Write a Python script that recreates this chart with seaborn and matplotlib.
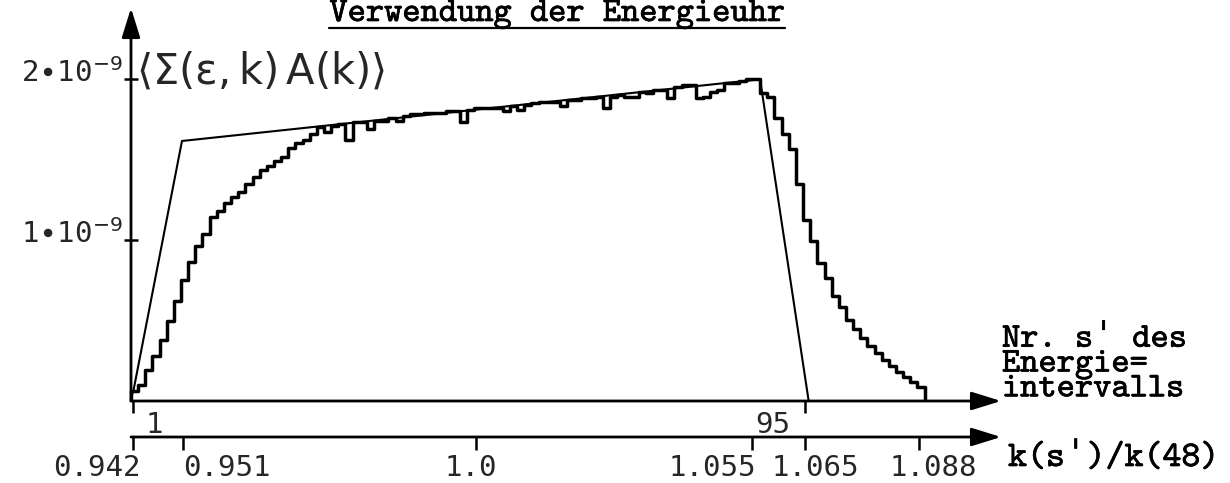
import matplotlib
matplotlib.use("Agg")
import matplotlib.pyplot as plt
import matplotlib.patheffects as pe
import numpy as np
import pandas as pd
import seaborn as sns

sns.set_theme(style="white")
plt.rcParams["font.family"] = ["DejaVu Sans Mono", "DejaVu Sans"]
plt.rcParams["mathtext.fontset"] = "dejavusans"

# --- data (values in units of 1e-9) ---
# histogram over energy interval number s' = 1..111
RISE = [0.06, 0.10, 0.19, 0.28, 0.38, 0.50, 0.62, 0.75, 0.865, 0.96, 1.04, 1.14,
        1.18, 1.23, 1.27, 1.30, 1.35, 1.39, 1.435, 1.46, 1.49, 1.515, 1.57, 1.60,
        1.62, 1.66, 1.70]
TOP = [1.67, 1.71, 1.72, 1.62, 1.73, 1.73, 1.69, 1.74, 1.74, 1.76, 1.74, 1.77,
       1.78, 1.78, 1.79, 1.79, 1.79, 1.80, 1.80, 1.735, 1.81, 1.82, 1.82, 1.82,
       1.82, 1.80, 1.83, 1.81, 1.84, 1.85, 1.86, 1.86, 1.86, 1.83, 1.87, 1.87,
       1.88, 1.88, 1.89, 1.82, 1.89, 1.90, 1.89, 1.89, 1.92, 1.91, 1.93, 1.93,
       1.88, 1.95, 1.96, 1.96, 1.88, 1.89, 1.92, 1.93, 1.975, 1.975, 1.99, 2.00,
       2.00]
FALL = [1.91, 1.886, 1.756, 1.66, 1.563, 1.35, 1.124, 0.996, 0.86, 0.766, 0.652,
        0.586, 0.503, 0.45, 0.39, 0.342, 0.296, 0.255, 0.217, 0.182, 0.151, 0.12,
        0.089]
HIST_VALUES = np.array(RISE + TOP + FALL)

# trapezoid (model curve)
TRAP_S = [1, 7.85, 88.7, 95.5]
TRAP_V = [0.05, 1.615, 1.998, 0.0]

# axis ticks
S_TICKS = [1, 95]
S_TICK_LABELS = ["1", "95"]
K_TICKS = [1, 8, 49, 87.6, 95, 111]
K_TICK_LABELS = ["0.942", "0.951", "1.0", "1.055", "1.065", "1.088"]
Y_TICKS = [1, 2]
Y_TICK_LABELS = [r"1$\bullet$10$^{-9}$", r"2$\bullet$10$^{-9}$"]

# --- layout ---
PX_PER_S = 7.15
S_AT_PX0 = 1 - 133 / PX_PER_S
PX_PER_UNIT = 161.0
Y_TOP = 401 / PX_PER_UNIT
W, H = 1230, 483

fig = plt.figure(figsize=(W / 100, H / 100), dpi=100)
ax = fig.add_axes([0, 0, 1, 1])

n = len(HIST_VALUES)
s_lo = 1 - 0.28
hist_df = pd.DataFrame({"s": np.arange(1, n + 1) - 0.28 + 0.5, "v": HIST_VALUES})
sns.histplot(data=hist_df, x="s", weights="v", binwidth=1, binrange=(s_lo, s_lo + n),
             element="step", fill=False, color="black", linewidth=2.5, ax=ax)
ax.vlines([s_lo, s_lo + n], 0, [HIST_VALUES[0], HIST_VALUES[-1]],
          color="black", linewidth=2.5)
sns.lineplot(x=TRAP_S, y=TRAP_V, sort=False, color="black", linewidth=1.5, ax=ax)

ax.set_xlim(S_AT_PX0, S_AT_PX0 + W / PX_PER_S)
ax.set_ylim(Y_TOP - H / PX_PER_UNIT, Y_TOP)
ax.set_axis_off()


def px_s(px):
    return S_AT_PX0 + px / PX_PER_S


def px_y(py):
    return (401 - py) / PX_PER_UNIT


arrow = dict(arrowstyle="-|>,head_length=0.9,head_width=0.28", color="black",
             lw=2.0, mutation_scale=20, shrinkA=0, shrinkB=0)
x0 = px_s(131)
# y axis
ax.annotate("", xy=(x0, px_y(8)), xytext=(x0, 0), arrowprops=arrow)
# s' axis
ax.annotate("", xy=(px_s(1001), 0), xytext=(x0, 0), arrowprops=arrow)
# k axis
y_k = px_y(437)
ax.annotate("", xy=(px_s(1001), y_k), xytext=(x0, y_k), arrowprops=arrow)

tick_s = 12 / PX_PER_UNIT
ax.vlines(S_TICKS, -tick_s, 0, color="black", linewidth=1.8)
ax.vlines(K_TICKS, y_k - 13 / PX_PER_UNIT, y_k, color="black", linewidth=1.8)
ax.hlines(Y_TICKS, x0 - 7 / PX_PER_S, x0 + 7 / PX_PER_S, color="black", linewidth=1.8)

num = dict(fontsize=21, family="DejaVu Sans Mono")
for s, lab, dx in zip(S_TICKS, S_TICK_LABELS, [3.0, -4.5]):
    ax.text(s + dx, px_y(425), lab, ha="center", va="center", **num)
k_align = [("right", 1.0), ("left", 0.0), ("center", -0.8), ("right", 0.6),
           ("center", 1.4), ("center", 2.0)]
for s, lab, (ha, dx) in zip(K_TICKS, K_TICK_LABELS, k_align):
    ax.text(s + dx, px_y(468), lab, ha=ha, va="center", **num)
for v, lab in zip(Y_TICKS, Y_TICK_LABELS):
    ax.text(px_s(123), v + 6 / PX_PER_UNIT, lab, ha="right", va="center", **num)

ax.text(px_s(136), px_y(72),
        r"$\left\langle\mathrm{\Sigma(\varepsilon,k)\,A(k)}\right\rangle$",
        fontsize=30, ha="left", va="center")

# typewriter text (straight apostrophe comes from the DejaVu fallback)
tw = dict(family=["cmtt10", "DejaVu Sans Mono"], color="black",
          path_effects=[pe.withStroke(linewidth=0.5, foreground="black")])
title = ax.text(px_s(557), px_y(21), "Verwendung der Energieuhr", fontsize=25,
                ha="center", va="baseline", **tw)
ax.text(px_s(1002), px_y(365), "Nr. s\u02c8 des\nEnergie=\nintervalls", fontsize=25,
        ha="left", va="center", linespacing=0.8, **tw)
ax.text(px_s(1008), px_y(459), "k(s\u02c8)/k(48)", fontsize=26, ha="left",
        va="center", **tw)

fig.canvas.draw()
bb = title.get_window_extent()
ax.plot([px_s(bb.x0), px_s(bb.x1)], [px_y(28), px_y(28)], color="black",
        linewidth=1.6)

fig.savefig("out.png", dpi=100, facecolor="white")
